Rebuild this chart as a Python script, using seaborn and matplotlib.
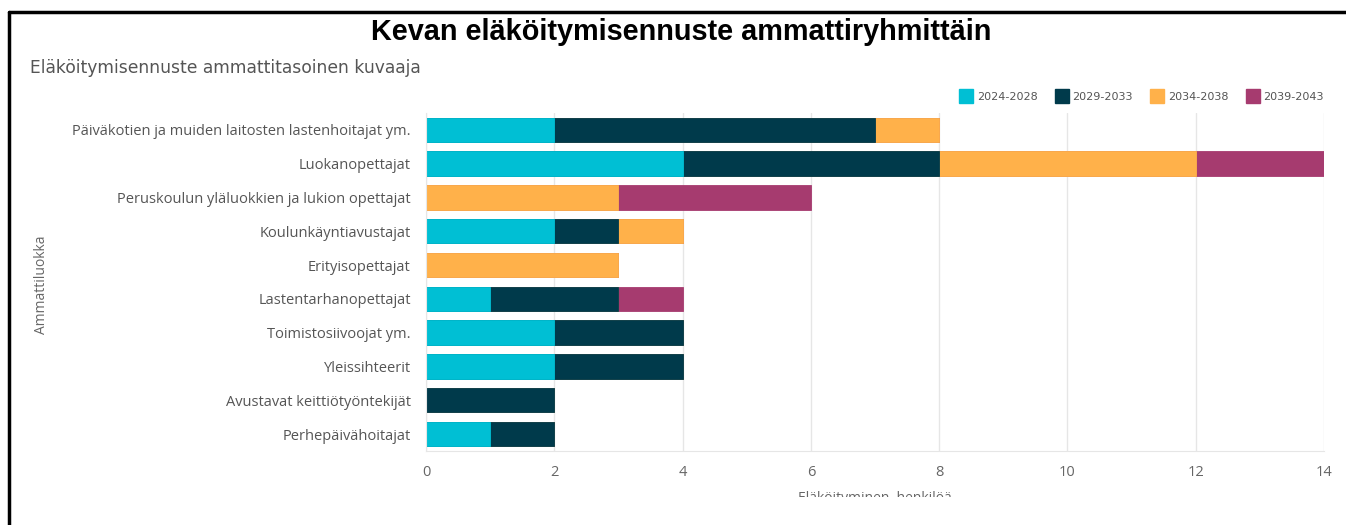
import pandas as pd
import matplotlib
matplotlib.use("Agg")
from matplotlib import pyplot as plt
from matplotlib.patches import Rectangle
from matplotlib.lines import Line2D
import seaborn as sns

categories = [
    "Päiväkotien ja muiden laitosten lastenhoitajat ym.",
    "Luokanopettajat",
    "Peruskoulun yläluokkien ja lukion opettajat",
    "Koulunkäyntiavustajat",
    "Erityisopettajat",
    "Lastentarhanopettajat",
    "Toimistosiivoojat ym.",
    "Yleissihteerit",
    "Avustavat keittiötyöntekijät",
    "Perhepäivähoitajat",
]
periods = ["2024-2028", "2029-2033", "2034-2038", "2039-2043"]
v_2024 = [2, 4, 0, 2, 0, 1, 2, 2, 0, 1]
v_2029 = [5, 4, 0, 1, 0, 2, 2, 2, 2, 1]
v_2034 = [1, 4, 3, 1, 3, 0, 0, 0, 0, 0]
v_2039 = [0, 2, 3, 0, 0, 1, 0, 0, 0, 0]
colors = ["#00bfd4", "#003a4b", "#ffb14a", "#a63b6f"]
x_ticks = [0, 2, 4, 6, 8, 10, 12, 14]

sns.set_style("white")
plt.rcParams["font.family"] = ["Open Sans", "DejaVu Sans"]

df = pd.DataFrame({"Ammattiluokka": categories})
cum = [0] * len(categories)
for name, vals in zip(periods, [v_2024, v_2029, v_2034, v_2039]):
    cum = [c + v for c, v in zip(cum, vals)]
    df[name] = cum

fig = plt.figure(figsize=(13.46, 5.25), dpi=100)
ax = fig.add_axes([0.3165, 0.141, 0.9837 - 0.3165, 0.785 - 0.141])

# stacked bars: draw cumulative totals from the last period back to the first
for name, col in reversed(list(zip(periods, colors))):
    sns.barplot(data=df, x=name, y="Ammattiluokka", color=col, width=0.72,
                saturation=1, edgecolor=col, linewidth=0.6, ax=ax)

ax.set_xlim(0, 14)
ax.set_ylim(9.5, -0.5)
ax.set_xticks(x_ticks)
ax.grid(axis="x", color="#e6e6e6", linewidth=1)
ax.set_axisbelow(True)
for s in ["top", "right"]:
    ax.spines[s].set_visible(False)
for s in ["left", "bottom"]:
    ax.spines[s].set_color("#e6e6e6")
ax.tick_params(axis="x", colors="#e6e6e6", length=5, labelcolor="#666666",
               labelsize=10.5, pad=5)
ax.tick_params(axis="y", length=0, labelcolor="#555555", labelsize=10.5, pad=11)
ax.set_xlabel("Eläköityminen, henkilöä", color="#666666", fontsize=10, labelpad=8)
ax.set_ylabel("")

fig.text(0.0312, 0.457, "Ammattiluokka", rotation=90, ha="center", va="center",
         color="#666666", fontsize=10)

fig.text(0.506, 0.94, "Kevan eläköitymisennuste ammattiryhmittäin", ha="center",
         va="center", fontsize=20.8, fontweight="bold", color="black",
         family="Liberation Sans")
fig.text(0.022, 0.87, "Eläköitymisennuste ammattitasoinen kuvaaja", ha="left",
         va="center", fontsize=12.3, color="#555555", family="DejaVu Sans")

handles = [Line2D([], [], marker="s", linestyle="", markersize=10,
                  markerfacecolor=c, markeredgecolor=c) for c in colors]
fig.legend(handles, periods, loc="center right", bbox_to_anchor=(0.991, 0.815),
           ncol=4, frameon=False, labelcolor="#555555",
           handletextpad=0.35, columnspacing=1.6, handlelength=1.2,
           prop={"family": "DejaVu Sans", "size": 8})

# frame lines of the screenshot
fig.add_artist(Line2D([0.0065, 1.0], [0.977, 0.977], color="black", linewidth=2.5))
fig.add_artist(Line2D([0.0065, 0.0065], [0.0, 0.977], color="black", linewidth=2.5))
# the x label is cut off at the bottom edge of the capture
fig.add_artist(Rectangle((0.4, 0.0), 0.4, 0.053, transform=fig.transFigure,
                         facecolor="white", edgecolor="none", zorder=10))

fig.savefig("out.png", dpi=100)
